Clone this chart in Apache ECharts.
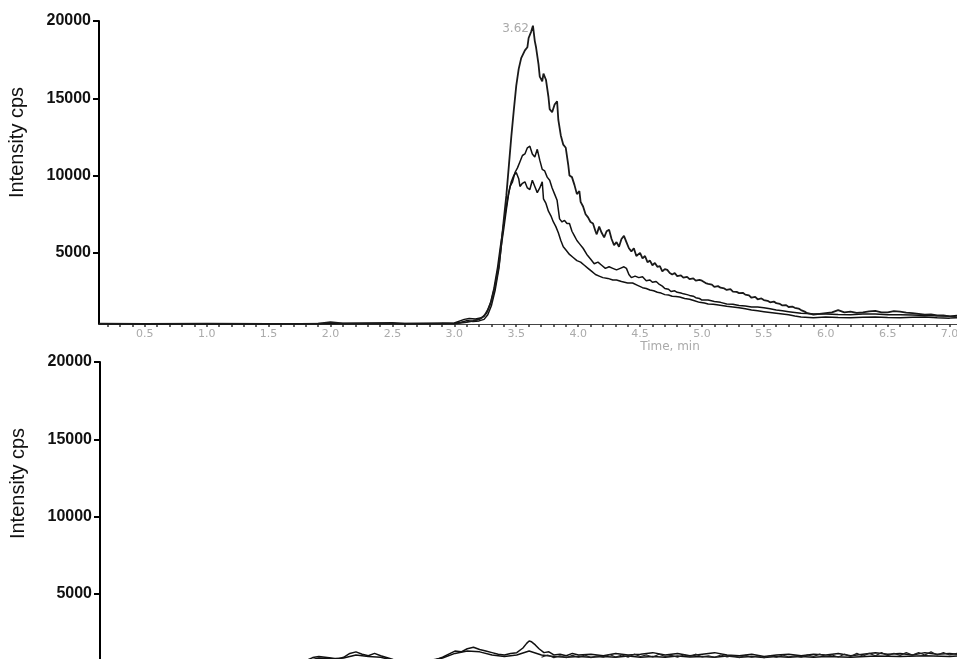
<!DOCTYPE html>
<html>
<head>
<meta charset="utf-8">
<script src="https://cdn.jsdelivr.net/npm/echarts@6.0.0/dist/echarts.min.js"></script>
<style>
  html, body { margin: 0; padding: 0; background: #fff; }
  #chart { width: 957px; height: 659px; }
</style>
</head>
<body>
<div id="chart"></div>
<script>
// time labels on the x axis (min)
var timeLabels = [0.5, 1.0, 1.5, 2.0, 2.5, 3.0, 3.5, 4.0, 4.5, 5.0, 5.5, 6.0, 6.5, 7.0];
var intensityLabels = [5000, 10000, 15000, 20000];

// upper panel, three traces [time, cps]
var traceHigh = [
  [0.13,420],[0.5,410],[1.0,420],[1.5,410],[1.9,430],[2.0,520],[2.1,440],[2.5,470],[2.6,430],[2.9,450],
  [3.0,430],[3.1,520],[3.15,600],[3.2,700],[3.24,900],[3.27,1300],[3.3,1900],[3.33,2900],[3.36,4200],
  [3.38,5600],[3.4,7200],[3.42,8700],[3.44,10600],[3.46,12500],[3.48,14200],[3.5,15800],[3.52,16900],
  [3.54,17600],[3.55,17500],[3.57,18100],[3.59,18300],[3.6,18900],[3.62,19300],[3.635,19700],[3.65,18700],
  [3.66,18300],[3.68,17200],[3.69,16400],[3.71,16100],[3.72,16600],[3.74,16200],[3.76,15100],[3.77,14300],
  [3.79,14100],[3.81,14600],[3.83,14800],[3.84,13600],[3.86,12600],[3.88,12000],[3.9,11800],[3.92,10700],
  [3.93,10000],[3.95,9900],[3.97,9400],[3.99,8800],[4.01,9000],[4.02,8300],[4.04,8000],[4.06,7500],
  [4.08,7300],[4.1,7000],[4.12,6900],[4.14,6400],[4.15,6200],[4.17,6700],[4.19,6300],[4.21,6000],
  [4.23,6400],[4.25,6500],[4.27,5900],[4.29,5500],[4.31,5700],[4.33,5400],[4.35,5900],[4.37,6100],
  [4.39,5700],[4.41,5300],[4.43,5100],[4.45,5300],[4.47,4800],[4.5,5000],[4.52,4650],[4.54,4800],
  [4.56,4400],[4.58,4500],[4.6,4200],[4.62,4350],[4.64,4100],[4.66,4150],[4.68,3800],[4.7,3950],
  [4.72,3900],[4.74,3700],[4.76,3600],[4.78,3700],[4.8,3500],[4.83,3550],[4.85,3400],[4.88,3450],
  [4.9,3300],[4.93,3350],[4.95,3200],[4.98,3250],[5.0,3200],[5.03,3050],[5.05,3000],[5.08,2950],
  [5.1,2800],[5.13,2850],[5.15,2750],[5.18,2700],[5.2,2600],[5.23,2650],[5.25,2500],[5.28,2480],
  [5.3,2400],[5.33,2420],[5.35,2300],[5.38,2250],[5.4,2100],[5.43,2150],[5.45,2000],[5.48,2050],
  [5.5,1950],[5.53,1900],[5.55,1800],[5.58,1850],[5.6,1750],[5.63,1700],[5.65,1600],[5.68,1620],
  [5.7,1500],[5.73,1520],[5.75,1450],[5.78,1400],[5.8,1300],[5.83,1200],[5.85,1100],[5.88,1050],
  [5.9,1000],[5.95,1050],[6.0,1100],[6.05,1150],[6.1,1300],[6.15,1150],[6.2,1200],[6.25,1120],
  [6.3,1150],[6.35,1220],[6.4,1250],[6.45,1150],[6.5,1150],[6.55,1230],[6.6,1200],[6.65,1130],
  [6.7,1100],[6.75,1060],[6.8,1000],[6.85,1020],[6.9,950],[6.95,960],[7.0,900],[7.06,850]
];
var traceMid = [
  [0.13,410],[0.5,400],[1.0,410],[1.5,400],[2.0,430],[2.5,420],[2.9,430],[3.0,460],[3.08,700],[3.12,760],
  [3.17,720],[3.22,800],[3.26,1100],[3.29,1700],[3.32,2700],[3.35,4100],[3.37,5300],[3.39,6400],
  [3.41,7500],[3.43,8500],[3.45,9300],[3.47,9600],[3.49,10200],[3.51,10500],[3.53,10900],[3.55,11300],
  [3.57,11400],[3.59,11800],[3.61,11900],[3.63,11400],[3.65,11200],[3.67,11700],[3.69,11000],
  [3.71,10400],[3.73,10300],[3.75,9900],[3.77,9700],[3.79,9200],[3.81,8800],[3.83,8400],[3.85,7200],
  [3.87,7000],[3.89,7100],[3.91,6900],[3.93,6900],[3.95,6400],[3.97,6100],[3.99,5800],[4.01,5600],
  [4.04,5300],[4.07,4900],[4.1,4600],[4.13,4300],[4.16,4400],[4.19,4200],[4.22,4000],[4.25,4100],
  [4.28,4000],[4.31,3900],[4.34,4000],[4.37,4100],[4.39,4000],[4.41,3600],[4.43,3400],[4.46,3500],
  [4.49,3400],[4.52,3450],[4.55,3200],[4.58,3250],[4.6,3100],[4.63,3150],[4.65,3000],[4.68,2850],
  [4.7,2700],[4.73,2650],[4.75,2500],[4.78,2550],[4.8,2450],[4.83,2400],[4.85,2350],[4.88,2300],
  [4.9,2250],[4.93,2200],[4.95,2100],[4.98,2050],[5.0,1950],[5.05,1950],[5.1,1850],[5.15,1800],
  [5.2,1700],[5.25,1680],[5.3,1600],[5.35,1560],[5.4,1500],[5.45,1500],[5.5,1450],[5.55,1380],
  [5.6,1300],[5.65,1250],[5.7,1200],[5.75,1150],[5.8,1100],[5.85,1080],[5.9,1050],[6.0,1050],
  [6.1,1020],[6.2,1000],[6.3,1040],[6.4,1050],[6.5,1000],[6.6,1000],[6.7,980],[6.8,950],[6.9,930],
  [7.0,900],[7.06,950]
];
var traceLow = [
  [0.13,410],[0.5,400],[1.0,400],[1.5,410],[2.0,420],[2.5,430],[2.9,420],[3.0,440],[3.05,500],[3.1,620],
  [3.15,560],[3.2,600],[3.24,700],[3.27,1000],[3.3,1600],[3.33,2600],[3.36,4000],[3.38,5500],[3.4,6600],
  [3.42,7800],[3.44,8900],[3.46,9600],[3.48,10000],[3.5,10200],[3.52,9800],[3.53,9300],[3.55,9500],
  [3.57,9600],[3.59,9200],[3.61,9100],[3.63,9700],[3.65,9300],[3.67,8900],[3.69,9200],[3.71,9600],
  [3.72,8500],[3.74,8200],[3.76,7700],[3.78,7400],[3.8,7000],[3.82,6700],[3.84,6300],[3.86,5800],
  [3.88,5400],[3.9,5200],[3.93,4900],[3.96,4700],[3.99,4500],[4.02,4400],[4.05,4200],[4.08,4000],
  [4.11,3800],[4.14,3600],[4.17,3500],[4.2,3400],[4.24,3350],[4.28,3250],[4.31,3250],[4.35,3150],
  [4.4,3050],[4.44,3050],[4.48,2900],[4.52,2750],[4.55,2700],[4.58,2600],[4.61,2550],[4.64,2450],
  [4.67,2400],[4.7,2300],[4.73,2280],[4.76,2200],[4.79,2180],[4.82,2150],[4.86,2050],[4.9,2000],
  [4.94,1900],[4.98,1800],[5.02,1760],[5.05,1700],[5.09,1680],[5.12,1650],[5.16,1600],[5.2,1550],
  [5.25,1500],[5.3,1450],[5.35,1380],[5.4,1300],[5.45,1250],[5.5,1200],[5.55,1150],[5.6,1100],
  [5.65,1050],[5.7,1000],[5.75,920],[5.8,850],[5.9,800],[6.0,850],[6.1,820],[6.2,800],[6.3,840],
  [6.4,850],[6.5,820],[6.6,800],[6.7,830],[6.8,850],[6.9,800],[7.0,780],[7.06,800]
];

// lower panel, three traces
var blankA = [
  [1.8,700],[1.85,880],[1.9,950],[1.95,900],[2.0,850],[2.05,780],[2.1,900],[2.15,1150],[2.2,1250],
  [2.25,1100],[2.3,1000],[2.35,1150],[2.4,1000],[2.5,750],[2.7,700],[2.85,760],[2.9,900],[2.95,1100],
  [3.0,1300],[3.05,1250],[3.1,1450],[3.15,1550],[3.2,1400],[3.25,1300],[3.3,1200],[3.35,1100],
  [3.4,1050],[3.45,1150],[3.5,1200],[3.55,1500],[3.58,1800],[3.6,1950],[3.62,1900],[3.65,1700],
  [3.68,1450],[3.72,1200],[3.76,1250],[3.8,1050],[3.85,1100],[3.9,1000],[3.95,1150],[4.0,1050],
  [4.1,1100],[4.2,1000],[4.3,1150],[4.4,1050],[4.5,1100],[4.6,1200],[4.7,1050],[4.8,1150],[4.9,1000],
  [5.0,1100],[5.1,1200],[5.2,1050],[5.3,1000],[5.4,1100],[5.5,950],[5.6,1050],[5.7,1100],[5.8,1000],
  [5.9,1100],[6.0,1050],[6.1,1150],[6.2,1000],[6.3,1100],[6.4,1200],[6.5,1100],[6.6,1150],[6.7,1050],
  [6.8,1200],[6.9,1100],[7.0,1150],[7.06,1100]
];
var blankB = [
  [1.8,650],[1.9,850],[2.0,800],[2.1,850],[2.2,1050],[2.3,950],[2.4,900],[2.5,700],[2.8,700],[2.9,850],
  [3.0,1150],[3.1,1300],[3.2,1250],[3.3,1050],[3.4,950],[3.5,1050],[3.6,1300],[3.7,1050],[3.8,950],
  [3.9,900],[4.0,950],[4.1,900],[4.2,950],[4.3,900],[4.4,980],[4.5,900],[4.6,950],[4.7,900],[4.8,980],
  [4.9,920],[5.0,950],[5.1,900],[5.2,980],[5.3,900],[5.4,950],[5.5,880],[5.6,950],[5.7,900],[5.8,950],
  [5.9,900],[6.0,950],[6.2,900],[6.4,980],[6.6,950],[6.8,1000],[7.0,950],[7.06,980]
];
var blankC = [
  [3.7,900],[3.75,1050],[3.8,880],[3.85,1000],[3.9,870],[3.95,1020],[4.0,900],[4.05,1050],[4.1,880],
  [4.15,1000],[4.2,900],[4.25,1080],[4.3,920],[4.35,1050],[4.4,900],[4.45,1100],[4.5,950],[4.55,1050],
  [4.6,920],[4.65,1100],[4.7,950],[4.75,1020],[4.8,900],[4.85,1050],[4.9,950],[4.95,1100],[5.0,920],
  [5.05,1000],[5.1,900],[5.15,1050],[5.2,930],[5.25,1000],[5.3,880],[5.35,1020],[5.4,900],[5.45,980],
  [5.5,870],[5.55,1000],[5.6,900],[5.65,1050],[5.7,920],[5.75,1000],[5.8,900],[5.85,1050],[5.9,950],
  [5.95,1100],[6.0,950],[6.05,1050],[6.1,920],[6.15,1100],[6.2,950],[6.25,1150],[6.3,980],[6.35,1150],
  [6.4,1000],[6.45,1200],[6.5,1000],[6.55,1150],[6.6,1020],[6.65,1200],[6.7,1050],[6.75,1200],
  [6.8,1050],[6.85,1250],[6.9,1050],[6.95,1200],[7.0,1050],[7.06,1150]
];

var minorTicks = [];
for (var i = 2; i <= 70; i++) minorTicks.push(Math.round(i) / 10);

var font = "'Liberation Sans', Arial, sans-serif";
var smallFont = "'DejaVu Sans', sans-serif";

function yAxisFor(gridIndex) {
  return {
    type: 'value', gridIndex: gridIndex, min: 400, max: 20000,
    name: 'Intensity cps', nameLocation: 'middle', nameGap: 72,
    nameTextStyle: { fontFamily: font, fontSize: 20, color: '#111', padding: [0, 0, 0, 60] },
    splitLine: { show: false },
    axisLine: { show: true, lineStyle: { color: '#000', width: 2 } },
    axisTick: { show: true, length: 6, customValues: intensityLabels, lineStyle: { color: '#000', width: 2 } },
    axisLabel: {
      customValues: intensityLabels, margin: 8, fontFamily: font, fontSize: 16, fontWeight: 'bold', color: '#111',
      formatter: function (v) { return String(v); }
    }
  };
}

var lineStyle = { color: '#111', width: 1.5 };

var option = {
  backgroundColor: '#fff',
  animation: false,
  grid: [
    { left: 99, right: 0, top: 21, height: 303, outerBoundsMode: 'none' },
    { left: 100, right: 0, top: 362, bottom: -6, outerBoundsMode: 'none' }
  ],
  xAxis: [
    {
      type: 'value', gridIndex: 0, min: 0.13, max: 7.06,
      name: 'Time, min', nameLocation: 'middle', nameGap: 11,
      nameTextStyle: { fontFamily: smallFont, fontSize: 12, color: '#aaa', padding: [0, 0, 0, 284] },
      splitLine: { show: false },
      axisLine: { onZero: false, lineStyle: { color: '#444', width: 1 } },
      axisTick: { customValues: minorTicks, length: 3, lineStyle: { color: '#333', width: 1.5 } },
      axisLabel: {
        customValues: timeLabels, margin: 5, fontFamily: smallFont, fontSize: 11, color: '#aaa',
        formatter: function (v) { return v.toFixed(1); }
      }
    },
    {
      type: 'value', gridIndex: 1, min: 0.13, max: 7.06, show: false
    }
  ],
  yAxis: [yAxisFor(0), yAxisFor(1)],
  series: [
    {
      type: 'line', xAxisIndex: 0, yAxisIndex: 0, data: traceLow, showSymbol: false,
      lineStyle: lineStyle
    },
    {
      type: 'line', xAxisIndex: 0, yAxisIndex: 0, data: traceMid, showSymbol: false,
      lineStyle: lineStyle
    },
    {
      type: 'line', xAxisIndex: 0, yAxisIndex: 0, data: traceHigh, showSymbol: false,
      lineStyle: { color: '#1a1a1a', width: 1.8 },
      markPoint: {
        symbol: 'circle', symbolSize: 0,
        label: { show: true, position: 'left', distance: 4, offset: [0, 3], fontFamily: smallFont, fontSize: 12, color: '#aaa', formatter: '3.62' },
        data: [{ coord: [3.635, 19700] }]
      }
    },
    {
      type: 'line', xAxisIndex: 1, yAxisIndex: 1, data: blankA, showSymbol: false,
      lineStyle: lineStyle
    },
    {
      type: 'line', xAxisIndex: 1, yAxisIndex: 1, data: blankB, showSymbol: false,
      lineStyle: lineStyle
    },
    {
      type: 'line', xAxisIndex: 1, yAxisIndex: 1, data: blankC, showSymbol: false,
      lineStyle: { color: '#222', width: 1.2 }
    }
  ]
};

var myChart = echarts.init(document.getElementById('chart'));
myChart.setOption(option);
</script>
</body>
</html>
